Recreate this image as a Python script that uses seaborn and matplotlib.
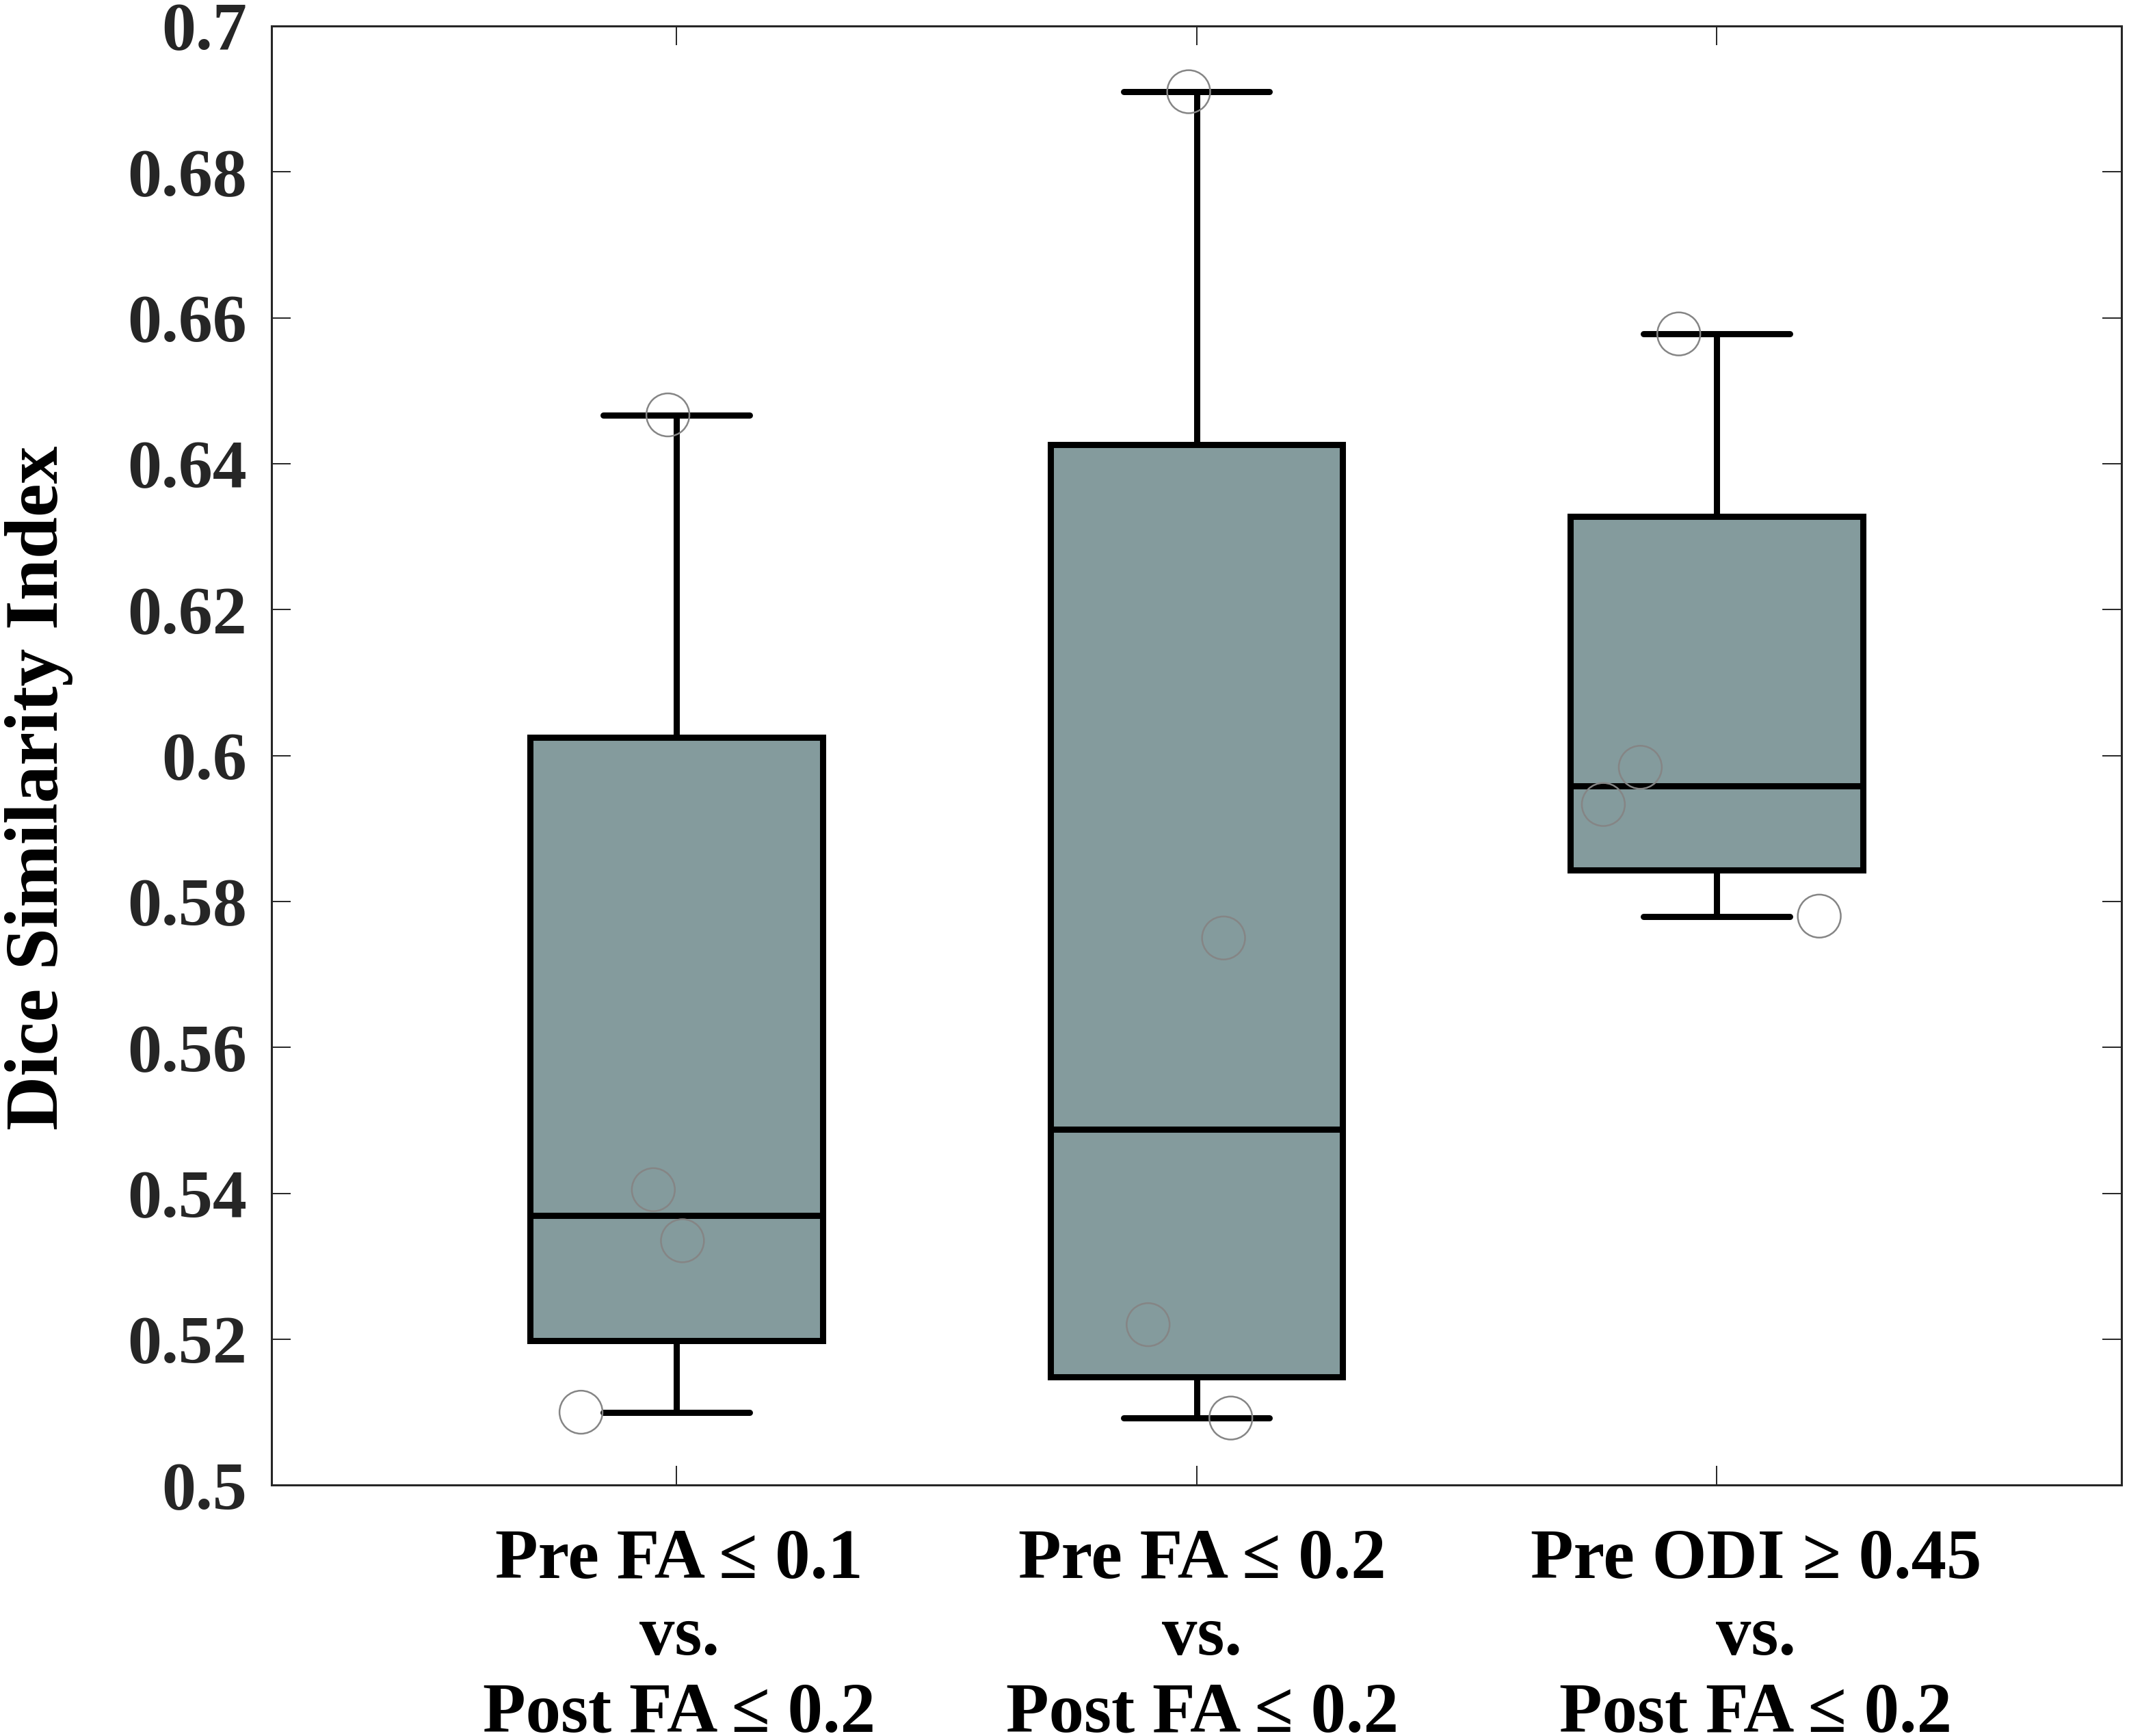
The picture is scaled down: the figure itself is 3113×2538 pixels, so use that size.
import numpy as np
import pandas as pd
import seaborn as sns
import matplotlib.pyplot as plt
from matplotlib.ticker import FormatStrFormatter

groups = ['Pre FA \u2264 0.1\nvs.\nPost FA \u2264 0.2',
          'Pre FA \u2264 0.2\nvs.\nPost FA \u2264 0.2',
          'Pre ODI \u2265 0.45\nvs.\nPost FA \u2264 0.2']
# box summaries: lower whisker, q1, median, q3, upper whisker
box_g1 = [0.5100, 0.5198, 0.5370, 0.6025, 0.6467]
box_g2 = [0.5092, 0.5148, 0.5488, 0.6426, 0.6910]
box_g3 = [0.5779, 0.5843, 0.5958, 0.6328, 0.6578]
# single subjects (open circles) and their horizontal jitter
pts_g1 = [0.6467, 0.5405, 0.5335, 0.5100]
jit_g1 = [-0.016, -0.044, 0.012, -0.183]
pts_g2 = [0.6910, 0.5750, 0.5220, 0.5092]
jit_g2 = [-0.015, 0.052, -0.093, 0.066]
pts_g3 = [0.6578, 0.5984, 0.5933, 0.5780]
jit_g3 = [-0.073, -0.147, -0.218, 0.197]
yticks = [0.5, 0.52, 0.54, 0.56, 0.58, 0.6, 0.62, 0.64, 0.66, 0.68, 0.7]
# the group labels sit slightly right of their ticks in the original
label_shift = [0.006, 0.011, 0.075]

box_df = pd.DataFrame({
    'group': [groups[0]] * 5 + [groups[1]] * 5 + [groups[2]] * 5,
    'dsi': box_g1 + box_g2 + box_g3,
})
pts = [pts_g1, pts_g2, pts_g3]
jits = [jit_g1, jit_g2, jit_g3]
pt_df = pd.DataFrame({
    'xpos': [i + j for i in range(3) for j in jits[i]],
    'dsi': [v for p in pts for v in p],
})

sns.set_style('white')
plt.rcParams['font.family'] = ['Liberation Serif', 'DejaVu Serif']
plt.rcParams['font.weight'] = 'bold'

fig, ax = plt.subplots(figsize=(31.13, 25.38), dpi=100)
fig.subplots_adjust(left=0.1275, right=0.9965, top=0.985, bottom=0.1445)

sns.boxplot(data=box_df, x='group', y='dsi', order=groups, ax=ax,
            color='#849b9d', saturation=1, width=0.562, linecolor='black',
            linewidth=6.5, whis=(0, 100), showfliers=False)
sns.scatterplot(data=pt_df, x='xpos', y='dsi', ax=ax, marker='o', s=2050,
                facecolor='none', edgecolor='#858585', linewidth=1.8,
                zorder=5, legend=False)

ax.set_xlim(-0.778, 2.778)
ax.set_ylim(0.5, 0.7)
ax.set_yticks(yticks)
ax.yaxis.set_major_formatter(FormatStrFormatter('%g'))
# major ticks carry the tick marks, minor ticks (no marks) carry the labels
ax.set_xticks(range(3))
ax.set_xticklabels([''] * 3)
ax.set_xticks([i + d for i, d in enumerate(label_shift)], minor=True)
ax.set_xticklabels(groups, minor=True, fontsize=74, fontweight='bold', color='black')
for lbl in ax.get_xticklabels(minor=True):
    lbl.set_linespacing(1.25)
ax.set_xlabel('')
ax.set_ylabel('Dice Similarity Index', fontsize=79, fontweight='bold', color='black')
ax.yaxis.set_label_coords(-0.107, 0.478)

for s in ax.spines.values():
    s.set_visible(True)
    s.set_color('#262626')
    s.set_linewidth(2.2)
ax.tick_params(axis='both', which='major', direction='in', length=20, width=1.4,
               color='#262626', top=True, right=True, bottom=True, left=True)
ax.tick_params(axis='y', labelsize=72, labelcolor='#262626', pad=26)
ax.tick_params(axis='x', which='minor', length=0, top=False, pad=46)

fig.savefig('out.png', dpi=100)
